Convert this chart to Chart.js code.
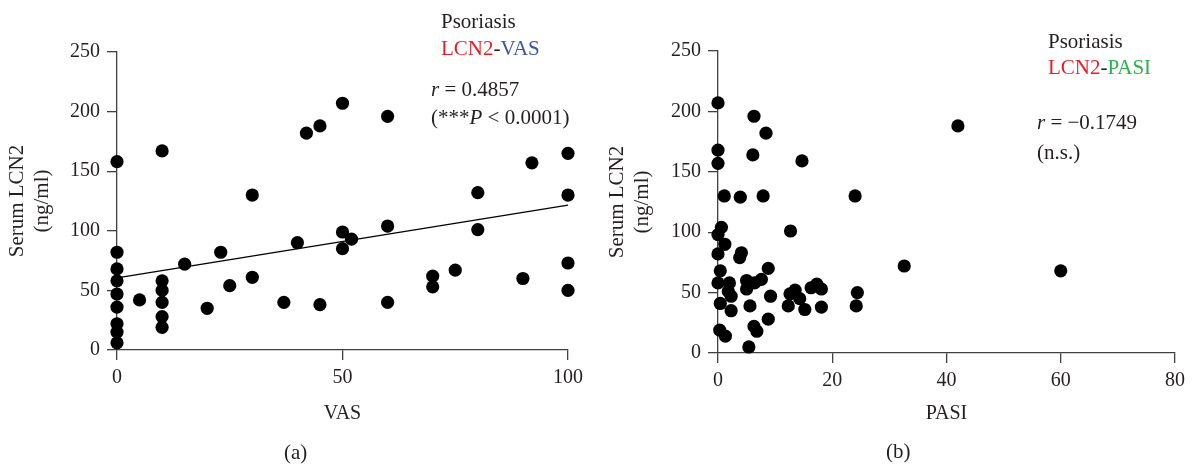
<!DOCTYPE html>
<html><head><meta charset="utf-8">
<script src="https://cdn.jsdelivr.net/npm/chart.js@4.4.1/dist/chart.umd.min.js"></script>
<style>
body{margin:0;background:#fff;width:1193px;height:464px;overflow:hidden;position:relative;font-family:"Liberation Serif","Times New Roman",serif;}
canvas{position:absolute;top:0;}
.t{position:absolute;font-size:21px;line-height:24px;white-space:nowrap;color:#231f20;}
.red{color:#ec1c24}.blue{color:#3b55a4}.green{color:#2bb24b}
i{font-style:italic}
</style></head><body>
<canvas id="ca" width="600" height="464" style="left:0"></canvas>
<canvas id="cb" width="593" height="464" style="left:600px"></canvas>
<div class="t" style="left:441px;top:9px">Psoriasis</div>
<div class="t" style="left:441px;top:36px"><span class="red">LCN2</span>-<span class="blue">VAS</span></div>
<div class="t" style="left:431px;top:77px"><i>r</i> = 0.4857</div>
<div class="t" style="left:431px;top:105px">(***<i>P</i> &lt; 0.0001)</div>
<div class="t" style="left:1048px;top:29px">Psoriasis</div>
<div class="t" style="left:1048px;top:55px"><span class="red">LCN2</span>-<span class="green">PASI</span></div>
<div class="t" style="left:1037px;top:110px"><i>r</i> = &minus;0.1749</div>
<div class="t" style="left:1037px;top:140px">(n.s.)</div>
<div class="t" style="left:284px;top:440px">(a)</div>
<div class="t" style="left:886px;top:439px">(b)</div>
<script>
// Panel (a): VAS vs serum LCN2
const vasX = [0,10,30,42,45,50,60,92,100,80,100,60,80,50,52,0,0,0,0,0,0,0,0,5,10,10,10,10,10,15,20,23,25,30,37,40,45,50,60,70,70,75,90,100,100];
const vasY = [158,167,130,182,188,207,196,157,165,132,130,104,101,99,93,82,68,58,47,36,22,15,6,42,58,50,40,28,19,72,35,82,54,61,40,90,38,85,40,62,53,67,60,73,50];
const vasFitX = [0,100];
const vasFitY = [60.5,121.5];
// Panel (b): PASI vs serum LCN2
const pasiX = [0,0,0,6.3,8.4,6.1,14.7,42,1.1,3.9,7.9,24,12.7,0,0.6,1.2,0,4.1,3.8,0.4,8.8,0,2,1.8,2.3,0.4,2.3,5,5,6.4,7.6,9.2,5.6,8.8,6.3,6.8,0.3,1.3,5.4,12.3,12.6,13.5,14.3,15.2,16.3,17.3,18.1,18.1,24.2,24.4,32.6,60];
const pasiY = [207,168,157,196,182,164,159,188,130,129,130,130,101,98,104,90,82,83,79,68,70,58,58,51,47,41,35,60,53,58,61,47,39,28,22,18,19,14,5,39,49,52,45,36,54,57,53,38,39,50,72,68];
const yTicks = [0,50,100,150,200,250];
const yTitle = ['Serum LCN2','(ng/ml)'];

const ink = '#231f20', axisC = '#404040';
const fam = '"Liberation Serif", serif';
const tickFont = {family:fam, size:20};
function pts(xs, ys){ return xs.map((x,i)=>({x:x, y:ys[i]})); }
function opts(xmax, xstep, xTitle, yW, xH, padR, padT){
  return {
    responsive:false, animation:false, devicePixelRatio:1,
    layout:{padding:{left:0,right:padR,top:padT,bottom:0}},
    plugins:{legend:{display:false},tooltip:{enabled:false}},
    scales:{
      x:{type:'linear',min:0,max:xmax,
        ticks:{stepSize:xstep,color:ink,font:tickFont,padding:6},
        grid:{drawOnChartArea:false,tickLength:10,color:axisC,lineWidth:1.3},
        border:{color:axisC,width:1.3},
        title:{display:true,text:xTitle,color:ink,font:{family:fam,size:20},padding:{top:0,bottom:38}},
        afterFit(s){ s.height = xH; }},
      y:{type:'linear',min:0,max:250,
        afterBuildTicks(s){ s.ticks = yTicks.map(v=>({value:v})); },
        ticks:{color:ink,font:tickFont,padding:7},
        grid:{drawOnChartArea:false,tickLength:10,color:axisC,lineWidth:1.3},
        border:{color:axisC,width:1.3},
        title:{display:true,text:yTitle,color:ink,font:{family:fam,size:21,lineHeight:1.2},padding:{top:5,bottom:0}},
        afterFit(s){ s.width = yW; }}
    }
  };
}
const dotStyle = {backgroundColor:'#000',borderWidth:0,pointRadius:6.6,pointHoverRadius:6.6,clip:false,showLine:false};
new Chart(document.getElementById('ca'), {
  type:'scatter',
  data:{datasets:[
    Object.assign({data:pts(vasX,vasY)}, dotStyle),
    {data:pts(vasFitX,vasFitY),showLine:true,borderColor:'#000',borderWidth:1.4,pointRadius:0,clip:false,order:-1}
  ]},
  options:opts(100,50,'VAS',117,114,32,52)
});
new Chart(document.getElementById('cb'), {
  type:'scatter',
  data:{datasets:[ Object.assign({data:pts(pasiX,pasiY)}, dotStyle) ]},
  options:opts(80,20,'PASI',118,111,18,51)
});
</script>
</body></html>
